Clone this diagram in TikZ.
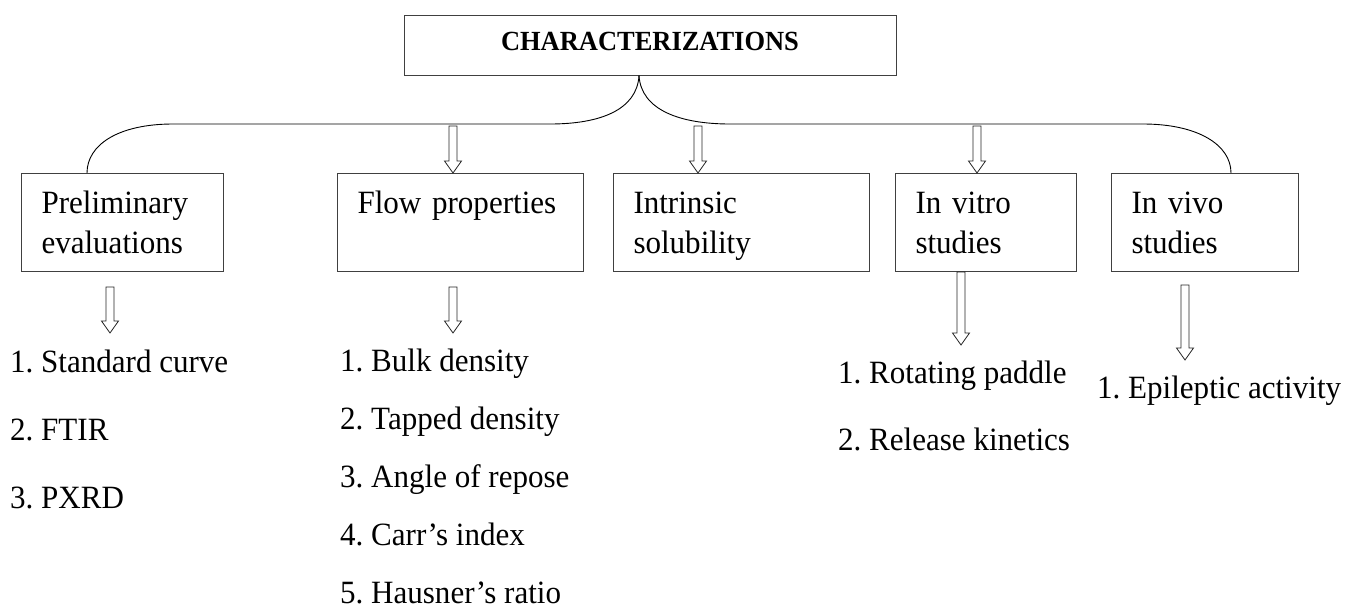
\documentclass[tikz,border=0pt]{standalone}
\usepackage{fontspec}
\setmainfont[FakeStretch=0.955]{Liberation Serif}
\usetikzlibrary{calc}
\frenchspacing
\newcommand{\hollowarrow}[2]{%
  \path[harrow] let \p1=(#1), \p2=(#2) in
   ({\x1-4pt},{\y1}) -- ({\x1+4pt},{\y1}) -- ({\x1+4pt},{\y2+12pt}) --
   ({\x1+8.5pt},{\y2+12pt}) -- ({\x1},{\y2}) -- ({\x1-8.5pt},{\y2+12pt}) --
   ({\x1-4pt},{\y2+12pt}) -- cycle;}
\tikzset{
  cbox/.style={draw=black!75, line width=1pt, anchor=north west, align=left,
    inner xsep=20pt, inner ysep=18pt, text height=22pt, text depth=40pt,
    font=\fontsize{32.5}{40}\selectfont},
  topbox/.style={draw=black!75, line width=1pt, minimum width=492pt,
    inner ysep=17pt, text height=18pt, text depth=8pt,
    font=\fontsize{27.7}{30}\selectfont\bfseries},
  item/.style={anchor=base west, inner sep=0pt, font=\fontsize{32.5}{37}\selectfont},
  harrow/.style={draw=black!85, line width=0.8pt, fill=white},
  link/.style={draw=black, line width=0.9pt}
}
\begin{document}
\begin{tikzpicture}[x=1pt,y=-1pt]
\useasboundingbox (0,0) rectangle (1349,608);

\node[topbox] (top) at (650,45) {CHARACTERIZATIONS};

\node[cbox, text width=162pt] (prelim) at (21,173) {Preliminary\\evaluations};
\node[cbox, text width=206pt] (flow) at (337,173) {Flow properties};
\node[cbox, text width=216pt] (intr) at (613,173) {Intrinsic\\solubility};
\node[cbox, text width=141pt] (vitro) at (895,173) {In vitro\\studies};
\node[cbox, text width=147pt] (vivo) at (1111,173) {In vivo\\studies};

% branching connector
\coordinate (br) at ($(top.south)+(-11,0)$);
\coordinate (bl) at (550,124);
\coordinate (brr) at (730,124);
\coordinate (ll) at (173,124);
\coordinate (rr) at (1143,124);
\coordinate (pa) at ($(prelim.north west)+(66,0)$);
\coordinate (va) at ($(vivo.north west)+(120,0)$);
\draw[link] (br) .. controls (637,110) and (600,124) .. (bl) -- (ll)
  .. controls (118,124) and (87,145) .. (pa);
\draw[link] (br) .. controls (641,110) and (680,124) .. (brr) -- (rr)
  .. controls (1198,124) and (1231,145) .. (va);

% hollow arrows from the line to the boxes
\coordinate (a1) at (453,126);
\coordinate (a2) at (698,126);
\coordinate (a3) at (977,126);
\hollowarrow{a1}{a1 |- flow.north}
\hollowarrow{a2}{a2 |- intr.north}
\hollowarrow{a3}{a3 |- vitro.north}

% arrows below boxes
\coordinate (b1) at (110,287);
\coordinate (b1e) at (110,333);
\coordinate (b2) at (453,287);
\coordinate (b2e) at (453,333);
\coordinate (b3) at ($(vitro.south west)+(66,0)$);
\coordinate (b3e) at (961,345);
\coordinate (b4) at (1185,285);
\coordinate (b4e) at (1185,360);
\hollowarrow{b1}{b1e}
\hollowarrow{b2}{b2e}
\hollowarrow{b3}{b3e}
\hollowarrow{b4}{b4e}

% lists
\node[item] (p1) at (10,372) {1. Standard curve};
\node[item] (p2) at (10,440) {2. FTIR};
\node[item] (p3) at (10,508) {3. PXRD};

\node[item] (f1) at (340,371) {1. Bulk density};
\node[item] (f2) at (340,429) {2. Tapped density};
\node[item] (f3) at (340,487) {3. Angle of repose};
\node[item] (f4) at (340,545) {4. Carr’s index};
\node[item] (f5) at (340,603) {5. Hausner’s ratio};

\node[item] (v1) at (838,383) {1. Rotating paddle};
\node[item] (v2) at (838,450) {2. Release kinetics};

\node[item] (e1) at (1097,398) {1. Epileptic activity};
\end{tikzpicture}
\end{document}
